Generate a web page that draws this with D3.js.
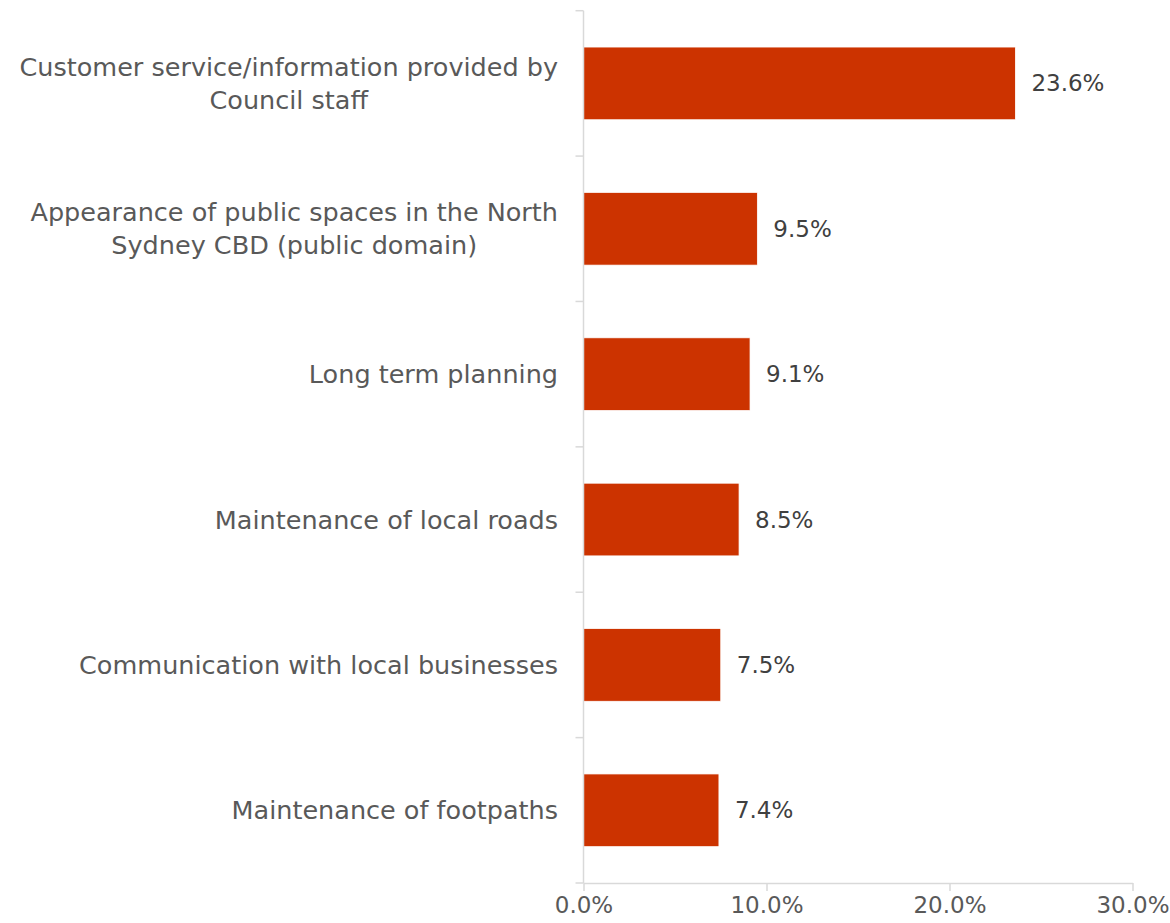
<!DOCTYPE html>
<html>
<head>
<meta charset="utf-8">
<script src="https://cdn.jsdelivr.net/npm/d3@7"></script>
<style>
  html, body { margin: 0; padding: 0; background: #fff; }
  svg { display: block; }
</style>
</head>
<body>
<svg id="chart" width="1170" height="923"></svg>
<script>
const categories = [
  ["Customer service/information provided by", "Council staff"],
  ["Appearance of public spaces in the North", "Sydney CBD (public domain)"],
  ["Long term planning"],
  ["Maintenance of local roads"],
  ["Communication with local businesses"],
  ["Maintenance of footpaths"]
];
const values = [0.236, 0.095, 0.091, 0.085, 0.075, 0.074];
const xTicks = [0, 0.1, 0.2, 0.3];

const FONT = "'DejaVu Sans', sans-serif";
const FS_CAT = 25.5;
const FS_VAL = 23;
const svg = d3.select("#chart");

const x = d3.scaleLinear().domain([0, 0.3]).range([583.5, 1132.5]);
const y = d3.scaleBand().domain(d3.range(categories.length)).range([10.7, 883]).paddingInner(0.5).paddingOuter(0.25);
const fmt = d3.format(".1%");

// bars
svg.append("g").selectAll("rect").data(values).join("rect")
  .attr("x", x(0))
  .attr("y", (d, i) => y(i))
  .attr("width", d => x(d) - x(0))
  .attr("height", y.bandwidth())
  .attr("fill", "#CC3300")
  .attr("stroke", "#ffffff")
  .attr("stroke-width", 0.75);

// y axis (band boundaries ticks)
const yEdges = d3.range(categories.length + 1).map(i => 10.7 + i * (883 - 10.7) / categories.length);
const axisColor = "#D9D9D9";
svg.append("line").attr("x1", x(0)).attr("x2", x(0)).attr("y1", 10.7).attr("y2", 883)
  .attr("stroke", axisColor).attr("stroke-width", 1.5);
svg.append("g").selectAll("line").data(yEdges).join("line")
  .attr("x1", x(0) - 8).attr("x2", x(0)).attr("y1", d => d).attr("y2", d => d)
  .attr("stroke", axisColor).attr("stroke-width", 1.5);

// x axis
const xAxis = d3.axisBottom(x).tickValues(xTicks).tickFormat(fmt).tickSize(8).tickSizeOuter(0).tickPadding(6);
const gx = svg.append("g").attr("transform", "translate(0,883)").call(xAxis);
gx.select(".domain").attr("stroke", axisColor).attr("stroke-width", 1.5);
gx.selectAll(".tick line").attr("stroke", axisColor).attr("stroke-width", 1.5);
gx.selectAll(".tick text").attr("fill", "#595959").style("font-family", FONT).style("font-size", FS_VAL + "px");

// category labels
const labelRight = 558;
const lineH = 33;
categories.forEach((lines, i) => {
  const cy = y(i) + y.bandwidth() / 2;
  const g = svg.append("g");
  const texts = lines.map((t, k) => g.append("text")
    .text(t)
    .attr("fill", "#595959")
    .attr("text-anchor", "middle")
    .attr("dominant-baseline", "central")
    .style("font-family", FONT).style("font-size", FS_CAT + "px"));
  const w = d3.max(texts, t => t.node().getComputedTextLength());
  const cx = labelRight - w / 2;
  texts.forEach((t, k) => {
    t.attr("x", cx).attr("y", cy + (k - (lines.length - 1) / 2) * lineH);
  });
});

// value labels
svg.append("g").selectAll("text").data(values).join("text")
  .attr("x", d => x(d) + 16)
  .attr("y", (d, i) => y(i) + y.bandwidth() / 2)
  .attr("dominant-baseline", "central")
  .attr("fill", "#404040")
  .style("font-family", FONT).style("font-size", FS_VAL + "px")
  .text(d => fmt(d));
</script>
</body>
</html>
